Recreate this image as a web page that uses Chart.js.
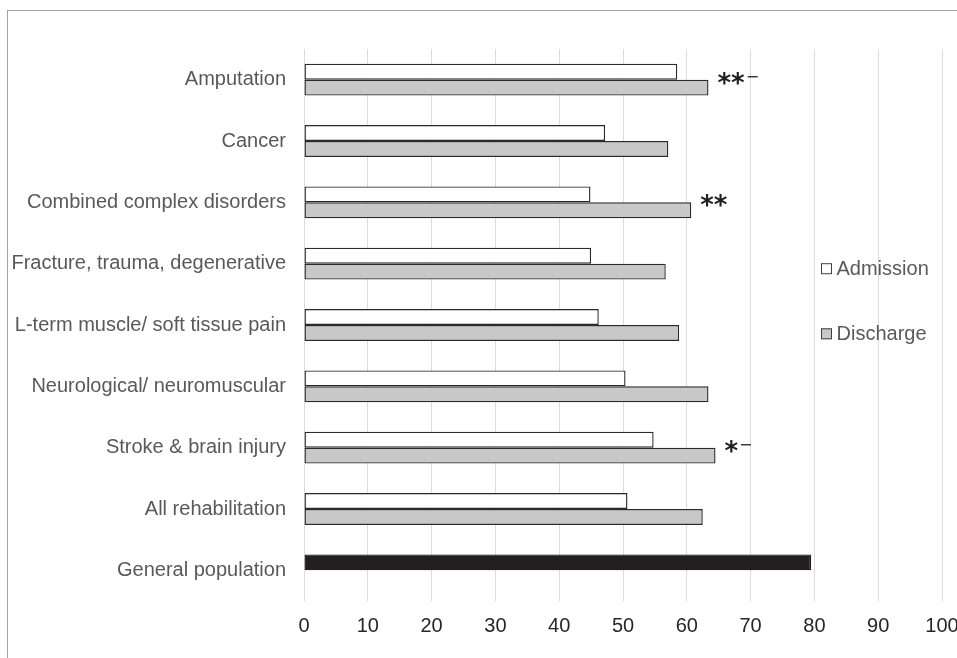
<!DOCTYPE html>
<html>
<head>
<meta charset="utf-8">
<script src="https://cdn.jsdelivr.net/npm/chart.js@4/dist/chart.umd.min.js"></script>
<style>
  html, body { margin: 0; padding: 0; background: #fff; overflow: hidden; width: 957px; height: 658px; }
  #frame { position: absolute; left: 7px; top: 10px; width: 1200px; height: 1000px; border-left: 1px solid #a0a0a0; border-top: 1px solid #a0a0a0; }
  #wrap { position: absolute; left: 0; top: 0; width: 975px; height: 658px; }
</style>
</head>
<body>
<div id="frame"></div>
<div id="wrap"><canvas id="c" width="975" height="658"></canvas></div>
<script>
const categories = [
  "Amputation",
  "Cancer",
  "Combined complex disorders",
  "Fracture, trauma, degenerative",
  "L-term muscle/ soft tissue pain",
  "Neurological/ neuromuscular",
  "Stroke & brain injury",
  "All rehabilitation",
  "General population"
];
const admission = [58.5, 47.2, 44.9, 45.0, 46.2, 50.4, 54.8, 50.7, null];
const discharge = [63.4, 57.1, 60.7, 56.7, 58.8, 63.4, 64.5, 62.5, null];
const generalPopulation = [null, null, null, null, null, null, null, null, 79.5];
const significance = ["**", "", "**", "", "", "", "*", "", ""];
const significanceMinus = [true, false, false, false, false, false, true, false, false];
const xTickMin = 0, xTickMax = 100, xTickStep = 10;
const legendLabels = ["Admission", "Discharge"];

const labelColor = "#595959";
const tickColor = "#262626";
const edge = "#2a2a2a";

const annotatePlugin = {
  id: "annotate",
  afterDatasetsDraw(chart) {
    const ctx = chart.ctx;
    const xs = chart.scales.x, ys = chart.scales.y;
    ctx.save();
    ctx.fillStyle = "#231f20";
    significance.forEach((s, i) => {
      if (!s) return;
      const x = xs.getPixelForValue(discharge[i]) + 9;
      const y = ys.getPixelForValue(i);
      ctx.font = "bold 26px 'DejaVu Sans'";
      ctx.textAlign = "left";
      ctx.textBaseline = "alphabetic";
      ctx.fillText(s, x, y + 12);
      const w = ctx.measureText(s).width;
      if (significanceMinus[i]) {
        ctx.font = "16px 'DejaVu Sans'";
        ctx.fillText("\u2212", x + w + 1, y + 2);
      }
    });
    ctx.restore();
  }
};

const legendPlugin = {
  id: "customLegend",
  afterDraw(chart) {
    const ctx = chart.ctx;
    const fills = ["#ffffff", "#c8c8c8"];
    const ysLeg = [268.7, 333.8];
    ctx.save();
    legendLabels.forEach((t, i) => {
      const bx = 821, by = ysLeg[i] - 5.5;
      ctx.fillStyle = fills[i];
      ctx.fillRect(bx, by, 11, 11);
      ctx.strokeStyle = "#404040";
      ctx.lineWidth = 1;
      ctx.strokeRect(bx + 0.5, by + 0.5, 10, 10);
      ctx.fillStyle = labelColor;
      ctx.font = "20px 'Liberation Sans', Arial, sans-serif";
      ctx.textAlign = "left";
      ctx.textBaseline = "middle";
      ctx.fillText(t, 836.5, ysLeg[i] + 1);
    });
    ctx.restore();
  }
};

new Chart(document.getElementById("c"), {
  type: "bar",
  data: {
    labels: categories,
    datasets: [
      { label: "Admission", data: admission, backgroundColor: "#ffffff", borderColor: edge, borderWidth: 1.4, borderSkipped: false, stack: "a" },
      { label: "Discharge", data: discharge, backgroundColor: "#c8c8c8", borderColor: edge, borderWidth: 1.4, borderSkipped: false, stack: "b" },
      { label: "General population", data: generalPopulation, backgroundColor: "#231f20", borderColor: "#231f20", borderWidth: 1.4, borderSkipped: false, stack: "a" }
    ]
  },
  options: {
    indexAxis: "y",
    responsive: false,
    animation: false,
    devicePixelRatio: 1,
    categoryPercentage: 0.52,
    barPercentage: 1.0,
    layout: { padding: { top: 49, right: 33, bottom: 0, left: 0 } },
    plugins: { legend: { display: false }, tooltip: { enabled: false } },
    scales: {
      x: {
        stacked: true,
        min: xTickMin, max: xTickMax,
        ticks: { stepSize: xTickStep, color: tickColor, padding: 13, font: { family: "'Liberation Sans', Arial, sans-serif", size: 20 } },
        grid: { color: "#dcdcdc", lineWidth: 1, drawTicks: false },
        border: { display: false },
        afterFit(scale) { scale.height = 57; }
      },
      y: {
        stacked: true,
        ticks: { color: labelColor, padding: 18, font: { family: "'Liberation Sans', Arial, sans-serif", size: 20 } },
        grid: { display: false, drawTicks: false },
        border: { display: false },
        afterFit(scale) { scale.width = 304; }
      }
    }
  },
  plugins: [annotatePlugin, legendPlugin]
});
</script>
</body>
</html>
